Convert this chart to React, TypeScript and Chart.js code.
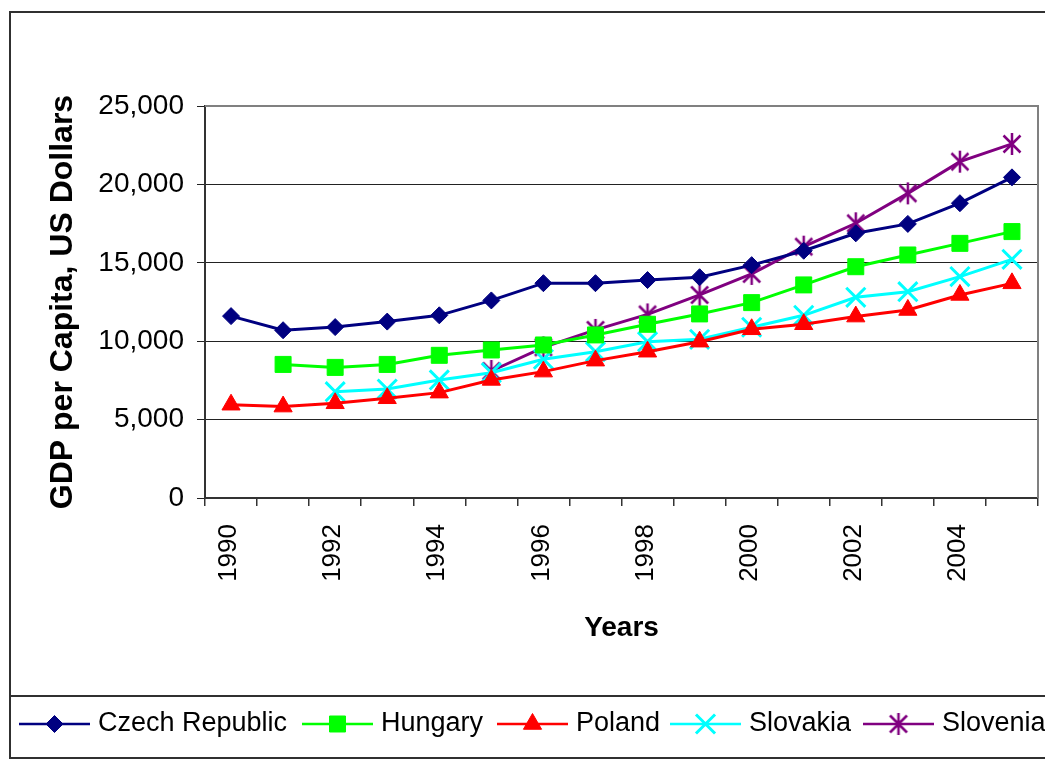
import { useEffect, useRef } from 'react';
import { Chart, registerables } from 'chart.js';
import { drawPoint } from 'chart.js/helpers';

Chart.register(...registerables);

const YEARS = ['1990', '1991', '1992', '1993', '1994', '1995', '1996', '1997', '1998', '1999', '2000', '2001', '2002', '2003', '2004', '2005'];
const CZECH = [11600, 10700, 10900, 11250, 11650, 12600, 13700, 13700, 13900, 14080, 14850, 15770, 16880, 17480, 18800, 20450];
const HUNGARY = [null, 8520, 8330, 8520, 9100, 9440, 9760, 10400, 11080, 11740, 12460, 13590, 14750, 15500, 16240, 16990];
const POLAND = [5950, 5830, 6040, 6360, 6720, 7530, 8060, 8760, 9330, 9970, 10760, 11080, 11570, 11990, 12950, 13690];
const SLOVAKIA = [null, null, 6780, 6950, 7530, 7990, 8850, 9330, 9970, 10120, 10890, 11650, 12800, 13160, 14120, 15220];
const SLOVENIA = [null, null, null, null, null, 8100, 9610, 10720, 11710, 12950, 14290, 16030, 17520, 19430, 21450, 22580];
const Y_MIN = 0;
const Y_MAX = 25000;
const Y_STEP = 5000;

const FONT = '"Liberation Sans", Arial, Helvetica, sans-serif';
const LEGEND_X = [19, 302, 497, 670, 863];
const LEGEND_Y = 724;

function makeAsterisk(color: string) {
  const c = document.createElement('canvas');
  c.width = 22;
  c.height = 24;
  const g = c.getContext('2d')!;
  g.strokeStyle = color;
  g.lineWidth = 2.5;
  g.beginPath();
  g.moveTo(2.5, 3.5);
  g.lineTo(19.5, 20.5);
  g.moveTo(19.5, 3.5);
  g.lineTo(2.5, 20.5);
  g.moveTo(11, 1);
  g.lineTo(11, 23);
  g.stroke();
  return c;
}

const framePlugin = {
  id: 'frame',
  beforeDraw(chart: any) {
    const ctx = chart.ctx;
    ctx.save();
    ctx.fillStyle = '#fff';
    ctx.fillRect(0, 0, chart.width, chart.height);
    ctx.strokeStyle = '#303030';
    ctx.lineWidth = 2;
    ctx.strokeRect(10, 12, 1100, 746);
    ctx.beginPath();
    ctx.moveTo(10, 696);
    ctx.lineTo(1100, 696);
    ctx.stroke();
    ctx.restore();
  },
  beforeDatasetsDraw(chart: any) {
    const { ctx, chartArea } = chart;
    ctx.save();
    ctx.strokeStyle = '#808080';
    ctx.lineWidth = 2;
    ctx.beginPath();
    ctx.moveTo(chartArea.left, chartArea.top);
    ctx.lineTo(chartArea.right, chartArea.top);
    ctx.lineTo(chartArea.right, chartArea.bottom);
    ctx.stroke();
    ctx.restore();
  },
};

const legendPlugin = {
  id: 'customLegend',
  afterDraw(chart: any) {
    const ctx = chart.ctx;
    ctx.save();
    ctx.font = `27px ${FONT}`;
    ctx.textBaseline = 'middle';
    ctx.textAlign = 'left';
    chart.data.datasets.forEach((ds: any, i: number) => {
      const x0 = LEGEND_X[i];
      ctx.strokeStyle = ds.borderColor;
      ctx.lineWidth = 2.5;
      ctx.beginPath();
      ctx.moveTo(x0, LEGEND_Y);
      ctx.lineTo(x0 + 71, LEGEND_Y);
      ctx.stroke();
      ctx.fillStyle = ds.pointBackgroundColor;
      ctx.strokeStyle = ds.pointBorderColor;
      ctx.lineWidth = ds.pointBorderWidth;
      drawPoint(ctx, { pointStyle: ds.pointStyle, radius: ds.pointRadius, rotation: 0, borderWidth: ds.pointBorderWidth }, x0 + 35.5, LEGEND_Y);
      ctx.fillStyle = '#000';
      ctx.fillText(ds.label, x0 + 79, LEGEND_Y);
    });
    ctx.restore();
  },
};

export default function App() {
  const ref = useRef<HTMLCanvasElement | null>(null);

  useEffect(() => {
    if (!ref.current) return;
    const asterisk = makeAsterisk('#800080');
    const series = (label: string, data: any[], color: string, pointStyle: any, radius: number, bw: number) => ({
      label,
      data,
      borderColor: color,
      backgroundColor: color,
      borderWidth: 3,
      pointStyle,
      pointRadius: radius,
      pointBackgroundColor: color,
      pointBorderColor: color,
      pointBorderWidth: bw,
      tension: 0,
      spanGaps: false,
    });
    const chart = new Chart(ref.current, {
      type: 'line',
      data: {
        labels: YEARS,
        datasets: [
          series('Czech Republic', CZECH, '#000080', 'rectRot', 8.5, 1),
          series('Hungary', HUNGARY, '#00FF00', 'rect', 11.3, 1),
          series('Poland', POLAND, '#FF0000', 'triangle', 10.5, 1),
          series('Slovakia', SLOVAKIA, '#00FFFF', 'crossRot', 13.5, 3),
          series('Slovenia', SLOVENIA, '#800080', asterisk, 11, 1),
        ],
      },
      options: {
        responsive: false,
        animation: false,
        devicePixelRatio: 1,
        layout: { autoPadding: false, padding: { left: 40, right: 7, top: 106, bottom: 113 } },
        plugins: { legend: { display: false }, tooltip: { enabled: false } },
        scales: {
          x: {
            type: 'category',
            offset: true,
            grid: { offset: true, drawOnChartArea: false, drawTicks: true, tickLength: 8, color: '#333', lineWidth: 1.5 },
            border: { color: '#333', width: 2 },
            ticks: {
              autoSkip: false,
              maxRotation: 90,
              minRotation: 90,
              padding: 18,
              labelOffset: -2,
              color: '#000',
              font: { family: FONT, size: 26 },
              callback: (_v: any, i: number) => (i % 2 === 0 ? YEARS[i] : ''),
            },
            title: { display: true, text: 'Years', color: '#000', font: { family: FONT, size: 28, weight: 'bold' }, padding: { top: 4, bottom: 4 } },
            afterFit(s: any) {
              s.height = 151;
              s.paddingLeft = 0;
              s.paddingRight = 0;
            },
          },
          y: {
            min: Y_MIN,
            max: Y_MAX,
            grid: { color: '#222', lineWidth: 1, tickLength: 8 },
            border: { color: '#333', width: 2 },
            ticks: {
              stepSize: Y_STEP,
              padding: 13,
              color: '#000',
              font: { family: FONT, size: 28 },
              callback: (v: any) => Number(v).toLocaleString('en-US'),
            },
            title: { display: true, text: 'GDP per Capita, US Dollars', color: '#000', font: { family: FONT, size: 32, weight: 'bold' }, padding: { top: 4, bottom: 4 } },
            afterFit(s: any) {
              s.width = 165;
              s.paddingTop = 0;
              s.paddingBottom = 0;
            },
          },
        },
      },
      plugins: [framePlugin, legendPlugin],
    } as any);
    return () => chart.destroy();
  }, []);

  return (
    <div style={{ position: 'absolute', left: 0, top: 0, width: 1045, height: 762 }}>
      <canvas ref={ref} width={1045} height={762} style={{ width: 1045, height: 762, display: 'block' }} />
    </div>
  );
}
